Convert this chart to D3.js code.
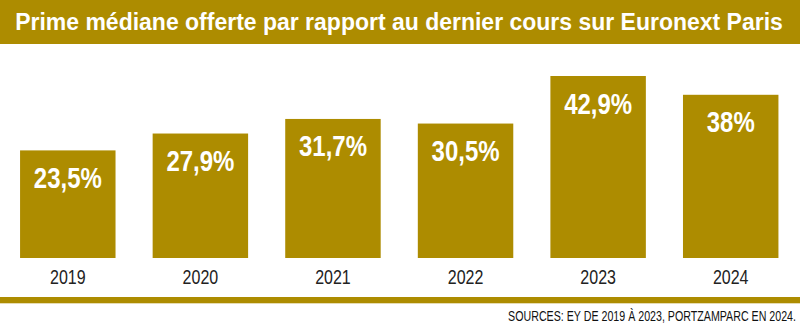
<!DOCTYPE html>
<html>
<head>
<meta charset="utf-8">
<script src="https://cdn.jsdelivr.net/npm/d3@7/dist/d3.min.js"></script>
<style>
  html, body { margin: 0; padding: 0; background: #fff; }
  svg { display: block; }
</style>
</head>
<body>
<script>
const title = "Prime médiane offerte par rapport au dernier cours sur Euronext Paris";
const source = "SOURCES: EY DE 2019 À 2023, PORTZAMPARC EN 2024.";
const years = ["2019", "2020", "2021", "2022", "2023", "2024"];
const values = [23.5, 27.9, 31.7, 30.5, 42.9, 38];
const valueLabels = ["23,5%", "27,9%", "31,7%", "30,5%", "42,9%", "38%"];

const W = 800, H = 323;
const gold = "#ad8c00";
const font = "'Liberation Sans', Arial, sans-serif";

const svg = d3.select("body").append("svg").attr("width", W).attr("height", H);

// helper: horizontally compress a text so that a reference string fits a target width
function measure(str, size, weight) {
  const t = svg.append("text").attr("font-family", font).attr("font-size", size)
    .attr("font-weight", weight).text(str);
  const w = t.node().getComputedTextLength();
  t.remove();
  return w;
}

// title band
svg.append("rect").attr("x", 0).attr("y", 0).attr("width", W).attr("height", 44).attr("fill", gold);
const kTitle = 768 / measure(title, 24.5, "bold");
svg.append("text")
  .attr("transform", `translate(399,29.5) scale(${kTitle},1)`)
  .attr("text-anchor", "middle")
  .attr("font-family", font)
  .attr("font-weight", "bold")
  .attr("font-size", 24.5)
  .attr("fill", "#fff")
  .text(title);

const x = d3.scaleBand().domain(years).range([1.5, 797]).paddingInner(0.28).paddingOuter(0.14);
const y = d3.scaleLinear().domain([-4.56, 42.9]).range([258, 76]);

const data = years.map((yr, i) => ({ year: yr, value: values[i], label: valueLabels[i] }));

svg.append("g").selectAll("rect").data(data).join("rect")
  .attr("x", d => x(d.year))
  .attr("width", x.bandwidth())
  .attr("y", d => y(d.value))
  .attr("height", d => y(-4.56) - y(d.value))
  .attr("fill", gold);

const kVal = 68 / measure(valueLabels[0], 29, "bold");
svg.append("g").selectAll("text").data(data).join("text")
  .attr("transform", d => `translate(${x(d.year) + x.bandwidth() / 2},${y(d.value) + 37.5}) scale(${kVal},1)`)
  .attr("text-anchor", "middle")
  .attr("font-family", font)
  .attr("font-weight", "bold")
  .attr("font-size", 29)
  .attr("fill", "#fff")
  .text(d => d.label);

// x axis labels
const kYear = 35.6 / measure(years[0], 19.5, "normal");
const xAxis = d3.axisBottom(x).tickSize(0).tickPadding(0);
const gx = svg.append("g").attr("transform", "translate(0,258)").call(xAxis);
gx.select(".domain").remove();
gx.selectAll("text")
  .attr("dy", null)
  .attr("y", 0)
  .attr("transform", `translate(0,26) scale(${kYear},1)`)
  .attr("font-family", font)
  .attr("font-size", 19.5)
  .attr("fill", "#222");

// bottom rule
svg.append("rect").attr("x", 0).attr("y", 297).attr("width", W).attr("height", 6.3).attr("fill", gold);

const kSrc = 288 / measure(source, 15.4, "normal");
svg.append("text")
  .attr("transform", `translate(796,321) scale(${kSrc},1)`)
  .attr("text-anchor", "end")
  .attr("font-family", font)
  .attr("font-size", 15.4)
  .attr("fill", "#111")
  .text(source);
</script>
</body>
</html>
